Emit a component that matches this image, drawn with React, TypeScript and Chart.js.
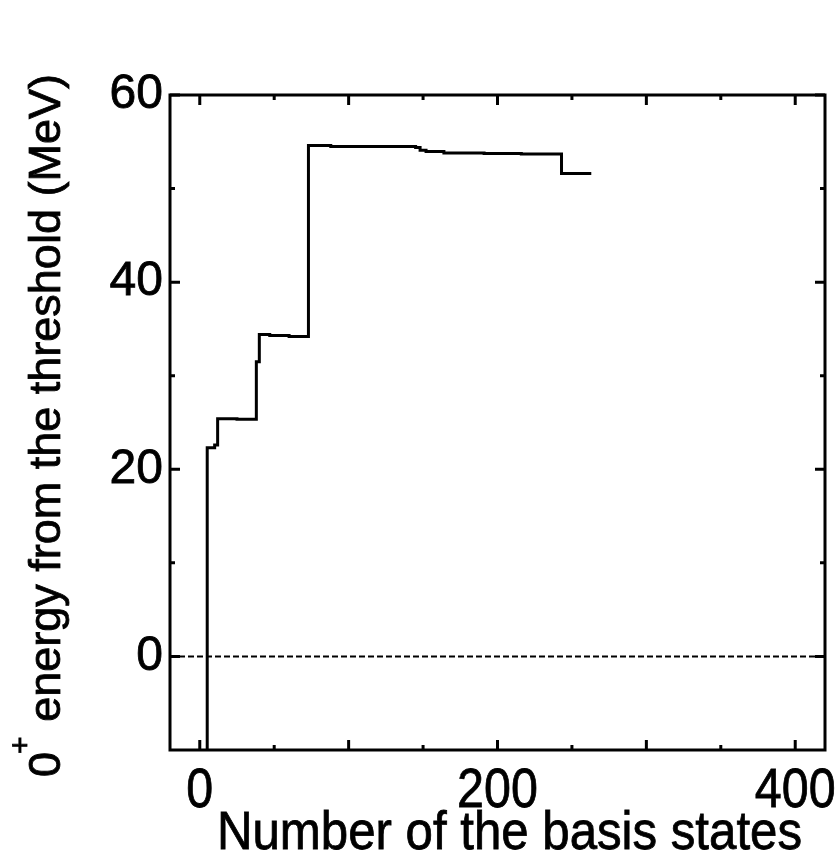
import React, { useEffect, useRef } from "react";
import { Chart, registerables } from "chart.js";

Chart.register(...registerables);

// Convergence of the 0+ energy with the number of basis states (step-wise)
const basisCount = [1, 5, 10, 12, 25, 38, 40, 47, 60, 73, 88, 145, 148, 152, 164, 191, 216, 243, 263];
const energyMeV = [-14, 22.3, 22.6, 25.4, 25.35, 31.5, 34.4, 34.3, 34.2, 54.6, 54.5, 54.4, 54.1, 53.95, 53.8, 53.75, 53.7, 51.6, 51.6];

// Threshold reference line
const thresholdX = [-20, 420];
const thresholdY = [0, 0];

// Axis ranges and ticks
const xRange = [-20, 420];
const yRange = [-10, 60];
const xLabelTicks = [0, 200, 400];
const yLabelTicks = [0, 20, 40, 60];
const xMajorTicks = [0, 100, 200, 300, 400];
const xMinorTicks = [50, 150, 250, 350];
const yMajorTicks = [0, 20, 40, 60];
const yMinorTicks = [10, 30, 50];

const xTitle = "Number of the basis states";
const yTitleBase = "0";
const yTitleSup = "+";
const yTitleRest = " energy from the threshold (MeV)";

const FONT = "'Liberation Sans', Arial, Helvetica, sans-serif";
const X_TEXT_SQUEEZE = 0.88;

function boldFill(ctx: CanvasRenderingContext2D, text: string, x: number, y: number) {
  ctx.fillText(text, x, y);
  ctx.strokeText(text, x, y);
}

const framePlugin = {
  id: "frameAndInwardTicks",
  afterDatasetsDraw(chart: any) {
    const { ctx, chartArea, scales } = chart;
    const { left, right, top, bottom } = chartArea;
    const xs = scales.x;
    const ys = scales.y;
    ctx.save();
    ctx.strokeStyle = "#000";
    ctx.lineWidth = 3;
    ctx.lineCap = "butt";
    ctx.strokeRect(left, top, right - left, bottom - top);

    const major = 10;
    const minor = 5;
    ctx.beginPath();
    const xTick = (v: number, len: number) => {
      const px = xs.getPixelForValue(v);
      ctx.moveTo(px, bottom);
      ctx.lineTo(px, bottom - len);
      ctx.moveTo(px, top);
      ctx.lineTo(px, top + len);
    };
    const yTick = (v: number, len: number) => {
      const py = ys.getPixelForValue(v);
      ctx.moveTo(left, py);
      ctx.lineTo(left + len, py);
      ctx.moveTo(right, py);
      ctx.lineTo(right - len, py);
    };
    xMajorTicks.forEach((v) => xTick(v, major));
    xMinorTicks.forEach((v) => xTick(v, minor));
    yMajorTicks.forEach((v) => yTick(v, major));
    yMinorTicks.forEach((v) => yTick(v, minor));
    ctx.stroke();
    ctx.restore();
  },
  afterDraw(chart: any) {
    const { ctx, chartArea, scales } = chart;
    ctx.save();
    ctx.fillStyle = "#000";
    ctx.strokeStyle = "#000";
    ctx.lineWidth = 0.8;
    ctx.textBaseline = "alphabetic";

    // x tick labels, condensed like the axis title
    ctx.font = `55px ${FONT}`;
    ctx.textAlign = "center";
    xLabelTicks.forEach((v) => {
      const px = scales.x.getPixelForValue(v);
      ctx.save();
      ctx.translate(px, 807);
      ctx.scale(X_TEXT_SQUEEZE, 1);
      boldFill(ctx, String(v), 0, 0);
      ctx.restore();
    });

    // x-axis title
    ctx.font = `54px ${FONT}`;
    ctx.textAlign = "center";
    const xc = (chartArea.left + chartArea.right) / 2 + 12;
    const tw = ctx.measureText(xTitle).width;
    ctx.save();
    ctx.translate(xc, 849);
    ctx.scale(585 / tw, 1);
    boldFill(ctx, xTitle, 0, 0);
    ctx.restore();

    // y-axis title with superscript
    ctx.textAlign = "left";
    const mainSize = 45;
    const supSize = 30;
    ctx.font = `${mainSize}px ${FONT}`;
    const w0 = ctx.measureText(yTitleBase).width;
    const wr = ctx.measureText(yTitleRest).width;
    ctx.font = `${supSize}px ${FONT}`;
    const ws = ctx.measureText(yTitleSup).width;
    const total = w0 + ws + wr;
    const yc = (chartArea.top + chartArea.bottom) / 2 + 3;
    ctx.translate(60, yc);
    ctx.rotate(-Math.PI / 2);
    let x = -total / 2;
    ctx.font = `${mainSize}px ${FONT}`;
    boldFill(ctx, yTitleBase, x, 0);
    x += w0;
    ctx.font = `${supSize}px ${FONT}`;
    boldFill(ctx, yTitleSup, x - 2, -30);
    x += ws;
    ctx.font = `${mainSize}px ${FONT}`;
    boldFill(ctx, yTitleRest, x, 0);
    ctx.restore();
  },
};

export default function App() {
  const canvasRef = useRef<HTMLCanvasElement | null>(null);

  useEffect(() => {
    const canvas = canvasRef.current;
    if (!canvas) return;
    const chart = new Chart(canvas, {
      type: "line",
      data: {
        datasets: [
          {
            label: "threshold",
            data: thresholdX.map((x, i) => ({ x, y: thresholdY[i] })),
            borderColor: "#000",
            borderWidth: 2,
            borderDash: [6, 3],
            pointRadius: 0,
            fill: false,
          },
          {
            label: "0+ energy",
            data: basisCount.map((x, i) => ({ x, y: energyMeV[i] })),
            borderColor: "#000",
            borderWidth: 3,
            stepped: "before",
            pointRadius: 0,
            fill: false,
          },
        ],
      },
      options: {
        responsive: false,
        animation: false,
        devicePixelRatio: 1,
        layout: { padding: { top: 95, right: 13, left: 0, bottom: 0 } },
        plugins: {
          legend: { display: false },
          tooltip: { enabled: false },
          title: { display: false },
        },
        scales: {
          x: {
            type: "linear",
            min: xRange[0],
            max: xRange[1],
            grid: { display: false, drawTicks: false },
            border: { display: false },
            ticks: { display: false },
            afterBuildTicks: (scale: any) => {
              scale.ticks = xLabelTicks.map((value) => ({ value }));
            },
            afterFit: (scale: any) => {
              scale.height = 100;
              scale.paddingLeft = 0;
              scale.paddingRight = 0;
            },
          },
          y: {
            type: "linear",
            min: yRange[0],
            max: yRange[1],
            grid: { display: false, drawTicks: false },
            border: { display: false },
            ticks: {
              color: "#000",
              padding: 7,
              textStrokeColor: "#000",
              textStrokeWidth: 0.8,
              font: { family: FONT, size: 48 },
            },
            afterBuildTicks: (scale: any) => {
              scale.ticks = yLabelTicks.map((value) => ({ value }));
            },
            afterFit: (scale: any) => {
              scale.width = 170;
              scale.paddingTop = 0;
              scale.paddingBottom = 0;
            },
          },
        },
      },
      plugins: [framePlugin],
    });
    return () => chart.destroy();
  }, []);

  return (
    <div style={{ position: "fixed", left: 0, top: 0, width: 838, height: 850, background: "#fff" }}>
      <canvas ref={canvasRef} width={838} height={850} />
    </div>
  );
}
